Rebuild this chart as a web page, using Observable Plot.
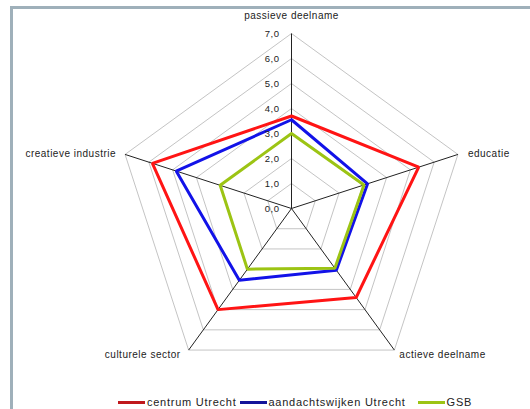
<!DOCTYPE html>
<html>
<head>
<meta charset="utf-8">
<script src="https://cdn.jsdelivr.net/npm/d3@7"></script>
<script src="https://cdn.jsdelivr.net/npm/@observablehq/plot@0.6"></script>
<style>
  html, body { margin: 0; padding: 0; background: #fff; }
  #wrap { position: relative; width: 530px; height: 409px; overflow: hidden; font-family: "Liberation Sans", Arial, sans-serif; }
  #frame { position: absolute; left: 10px; top: 6px; width: 540px; height: 420px; border-top: 3px solid #9fb0ba; border-left: 3px solid #9fb0ba; box-sizing: border-box; }
  #chart { position: absolute; left: 0; top: 0; }
  #legend { position: absolute; left: 118px; top: 396px; display: flex; align-items: center; font-size: 11px; letter-spacing: 0.75px; color: #222; white-space: nowrap; }
  .sw { display: inline-block; width: 27px; height: 3px; margin-right: 2px; }
  .item { display: flex; align-items: center; margin-right: 3px; }
  .item.wide { margin-right: 12px; }
</style>
</head>
<body>
<div id="wrap">
  <div id="frame"></div>
  <div id="chart"></div>
  <div id="legend"></div>
</div>
<script>
const categories = ["passieve deelname", "educatie", "actieve deelname", "culturele sector", "creatieve industrie"];
const centrumUtrecht = [3.7, 5.35, 4.4, 5.0, 5.85];
const aandachtswijken = [3.55, 3.2, 3.05, 3.55, 4.85];
const gsb = [3.0, 3.05, 2.95, 3.0, 3.0];
const tickValues = [0, 1, 2, 3, 4, 5, 6, 7];
const tickLabels = ["0,0", "1,0", "2,0", "3,0", "4,0", "5,0", "6,0", "7,0"];
const seriesNames = ["centrum Utrecht", "aandachtswijken Utrecht", "GSB"];
const seriesColors = ["#ff1414", "#1212e8", "#9cc414"];
const seriesValues = [centrumUtrecht, aandachtswijken, gsb];

const maxV = 7;
const n = categories.length;
const ang = i => (i * 2 * Math.PI) / n;
const px = (v, i) => v * Math.sin(ang(i));
const py = (v, i) => v * Math.cos(ang(i));

const grid = [];
for (const lv of tickValues.filter(d => d > 0)) {
  for (let i = 0; i <= n; i++) grid.push({lv, x: px(lv, i % n), y: py(lv, i % n)});
}
const spokes = categories.map((c, i) => ({x1: 0, y1: 0, x2: px(maxV, i), y2: py(maxV, i)}));
const lines = [];
seriesValues.forEach((vals, s) => {
  for (let i = 0; i <= n; i++) lines.push({s: seriesNames[s], x: px(vals[i % n], i % n), y: py(vals[i % n], i % n)});
});
const labelOpts = [
  {anchor: "middle", dx: 0, dy: -18},
  {anchor: "start", dx: 10, dy: -1},
  {anchor: "start", dx: 5, dy: 5},
  {anchor: "end", dx: -8, dy: 5},
  {anchor: "end", dx: -9, dy: -1}
];
const catLabels = categories.map((c, i) => ({c, x: px(maxV, i), y: py(maxV, i), ...labelOpts[i]}));

const W = 530, H = 385, cx = 291, cy = 208, unit = 25;
const chart = Plot.plot({
  width: W, height: H,
  margin: 0,
  x: {domain: [-cx / unit, (W - cx) / unit], range: [0, W], axis: null},
  y: {domain: [cy / unit, (cy - H) / unit], range: [0, H], axis: null},
  color: {domain: seriesNames, range: seriesColors},
  style: {fontFamily: "'Liberation Sans', Arial, sans-serif", background: "transparent"},
  marks: [
    Plot.line(grid, {x: "x", y: "y", z: "lv", stroke: "#c4c4c4", strokeWidth: 1}),
    Plot.link(spokes, {x1: "x1", y1: "y1", x2: "x2", y2: "y2", stroke: "#222", strokeWidth: 1}),
    Plot.line(lines, {x: "x", y: "y", z: "s", stroke: "s", strokeWidth: 3, strokeLinejoin: "miter", curve: "linear"}),
    Plot.text(tickValues, {x: 0, y: d => d, text: (d, i) => tickLabels[i], textAnchor: "end", dx: -12, fontSize: 9.5, fill: "#222"}),
    ...catLabels.map(d => Plot.text([d], {x: "x", y: "y", text: "c", textAnchor: d.anchor, dx: d.dx, dy: d.dy, fontSize: 10, fill: "#222"}))
  ]
});
chart.querySelectorAll("text").forEach(t => t.style.letterSpacing = "0.5px");
document.getElementById("chart").appendChild(chart);

const legend = document.getElementById("legend");
seriesNames.forEach((name, i) => {
  const it = document.createElement("div");
  it.className = "item" + (i === 1 ? " wide" : "");
  const sw = document.createElement("span");
  sw.className = "sw";
  sw.style.background = ["#c0181c", "#14149a", "#9cc414"][i];
  it.appendChild(sw);
  const t = document.createElement("span");
  t.textContent = name;
  it.appendChild(t);
  legend.appendChild(it);
});
</script>
</body>
</html>
